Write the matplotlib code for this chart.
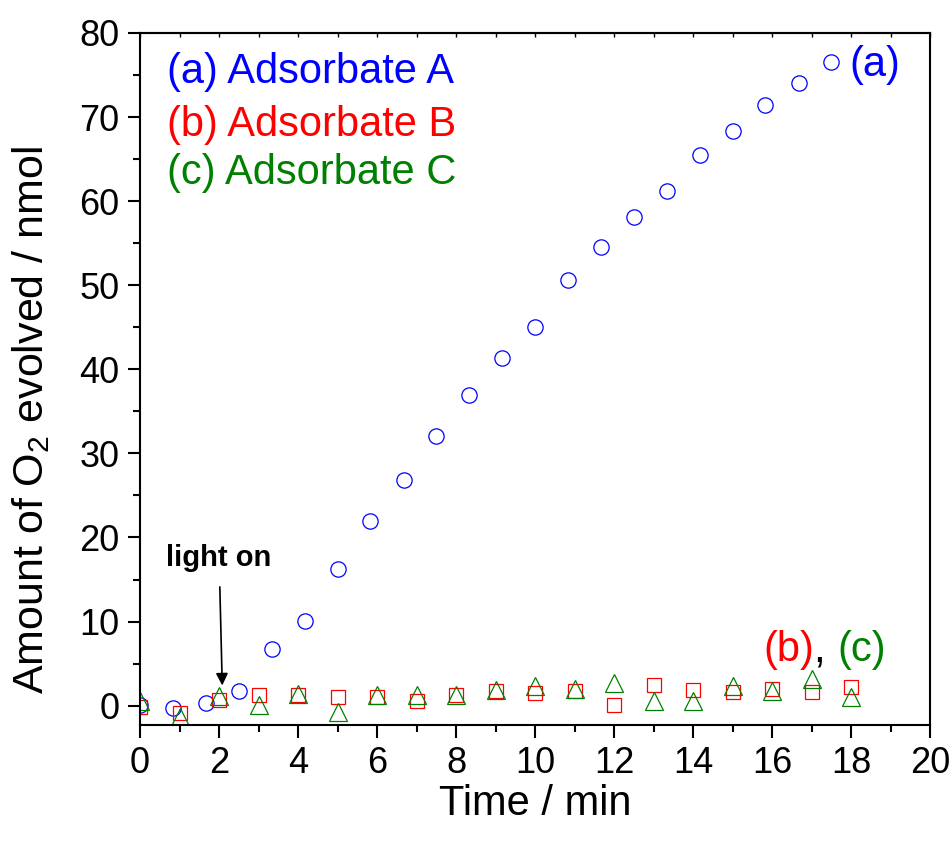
"""O2 evolution vs. time for three adsorbates."""

import matplotlib

matplotlib.use("Agg")
import matplotlib.pyplot as plt
from matplotlib.ticker import MultipleLocator

# (a) Adsorbate A, sampled every 50 s
time_a = [0.0, 0.83, 1.67, 2.5, 3.33, 4.17, 5.0, 5.83, 6.67, 7.5, 8.33,
          9.17, 10.0, 10.83, 11.67, 12.5, 13.33, 14.17, 15.0, 15.83,
          16.67, 17.5]
amount_a = [0.1, -0.3, 0.3, 1.8, 6.7, 10.1, 16.2, 21.9, 26.8, 32.1, 37.0,
            41.3, 45.0, 50.6, 54.5, 58.1, 61.2, 65.5, 68.3, 71.4, 74.0, 76.6]

# (b) Adsorbate B and (c) Adsorbate C, sampled every minute
time_bc = list(range(19))
amount_b = [-0.2, -0.9, 0.7, 1.3, 1.3, 1.0, 1.0, 0.5, 1.3, 1.7, 1.5, 1.7,
            0.1, 2.5, 1.9, 1.6, 2.0, 1.6, 2.2]
amount_c = [0.5, -1.4, 1.1, 0.1, 1.4, -0.7, 1.3, 1.3, 1.3, 1.9, 2.3, 2.0,
            2.7, 0.5, 0.5, 2.3, 1.7, 3.2, 1.0]

BLUE = "#0000ff"
RED = "#ff0000"
GREEN = "#008000"


def main() -> None:
    plt.rcParams.update(
        {
            "font.family": ["Liberation Sans", "DejaVu Sans"],
            "mathtext.fontset": "custom",
            "mathtext.rm": "Liberation Sans",
            "figure.facecolor": "white",
        }
    )

    fig = plt.figure(figsize=(9.53, 8.44), dpi=100)
    ax = fig.add_axes([0.147, 0.141, 0.829, 0.820])

    ax.plot(time_a, amount_a, "o", mfc="none", mec=BLUE, ms=11, mew=0.9)
    ax.plot(time_bc, amount_b, "s", mfc="none", mec=RED, ms=10, mew=0.9)
    ax.plot(time_bc, amount_c, "^", mfc="none", mec=GREEN, ms=12.5, mew=0.9)

    ax.set_xlim(0, 20)
    ax.set_ylim(-2.3, 80)
    ax.xaxis.set_major_locator(MultipleLocator(2))
    ax.xaxis.set_minor_locator(MultipleLocator(1))
    ax.yaxis.set_major_locator(MultipleLocator(10))
    ax.yaxis.set_minor_locator(MultipleLocator(5))

    for side in ("left", "bottom", "top", "right"):
        ax.spines[side].set_linewidth(1.5)
    ax.tick_params(which="major", length=9, width=1.5, direction="out",
                   labelsize=26, pad=6)
    ax.tick_params(which="minor", length=5, width=1.5, direction="out")

    top = ax.secondary_xaxis("top")
    top.xaxis.set_major_locator(MultipleLocator(1))
    top.tick_params(direction="in", length=3, width=1, labeltop=False)
    top.spines["top"].set_linewidth(1.5)

    ax.set_xlabel("Time / min", fontsize=30, labelpad=2)
    ax.set_ylabel("Amount of O$_2$ evolved / nmol", fontsize=31)
    ax.yaxis.set_label_coords(-0.112, 0.44)

    ax.text(0.68, 75.3, "(a) Adsorbate A", color=BLUE, fontsize=30, va="center")
    ax.text(0.68, 69.1, "(b) Adsorbate B", color=RED, fontsize=30, va="center")
    ax.text(0.68, 63.4, "(c) Adsorbate C", color=GREEN, fontsize=30, va="center")

    ax.text(17.95, 76.2, "(a)", color=BLUE, fontsize=30, va="center")
    tb = ax.text(15.77, 6.6, "(b)", color=RED, fontsize=30, va="center")
    fig.canvas.draw()
    ax.annotate(", ", xycoords=tb, xy=(1, 0.5), va="center", fontsize=30)
    comma = ax.texts[-1]
    fig.canvas.draw()
    ax.annotate("(c)", xycoords=comma, xy=(1, 0.5), va="center",
                color=GREEN, fontsize=30)

    ax.annotate(
        "light on",
        xy=(2.08, 2.4),
        xytext=(2.0, 17.6),
        ha="center",
        va="center",
        fontsize=21,
        fontweight="bold",
        arrowprops=dict(arrowstyle="-|>", color="black", lw=1.2,
                        mutation_scale=18, shrinkA=9, shrinkB=0),
    )

    fig.savefig("out.png", dpi=100)
    plt.close(fig)


if __name__ == "__main__":
    main()
